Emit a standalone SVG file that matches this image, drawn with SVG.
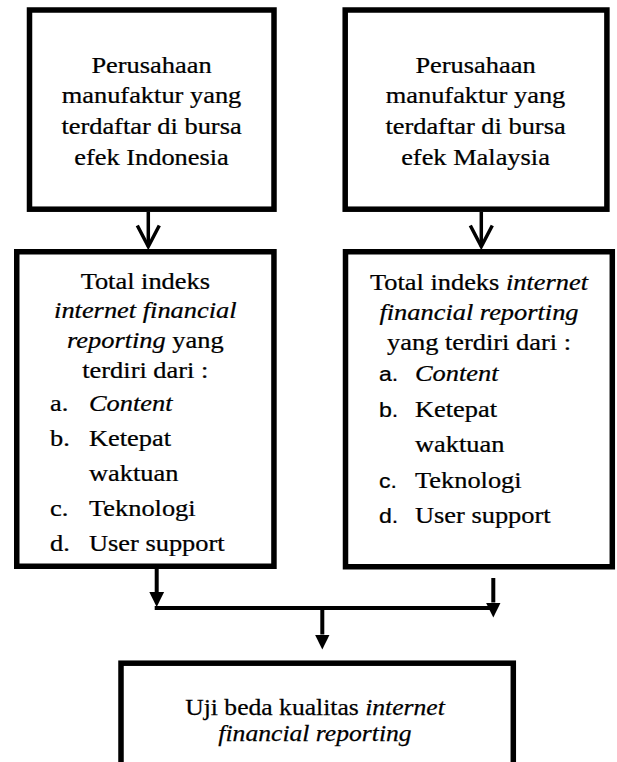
<svg xmlns="http://www.w3.org/2000/svg" width="617" height="762" viewBox="0 0 617 762">
<style>
.box{fill:#fff;stroke:#000;stroke-width:5.5}
.t{font-size:24px;fill:#000;stroke:#000;stroke-width:0.25}
.c{text-anchor:middle}
.i{font-style:italic}
.s{font-size:21px}
.ln{stroke:#000;stroke-width:4;fill:none}
.ls{stroke:#000;stroke-width:3.5;fill:none}
</style>
<defs>
<marker id="tri" markerUnits="userSpaceOnUse" viewBox="0 -8 15 16" refX="0" refY="0" markerWidth="15" markerHeight="16" orient="auto">
<path d="M0,-7.4 L15,0 L0,7.4 Z" fill="#000"/>
</marker>
<marker id="vee" markerUnits="userSpaceOnUse" viewBox="-3 -14 28 28" refX="21" refY="0" markerWidth="28" markerHeight="28" orient="auto">
<path d="M0,-11 L21,0 L0,11" fill="none" stroke="#000" stroke-width="3.5"/>
</marker>
</defs>
<rect width="617" height="762" fill="#fff"/>

<g font-family="'Liberation Serif', 'DejaVu Serif', serif">
<g id="node-indonesia">
<rect class="box" x="29.5" y="10" width="244.5" height="199.2"/>
<text class="t c" transform="translate(151.5,72.7) scale(1.1,1)">Perusahaan</text>
<text class="t c" transform="translate(151.5,103.3) scale(1.1,1)">manufaktur yang</text>
<text class="t c" transform="translate(151.5,133.9) scale(1.1,1)">terdaftar di bursa</text>
<text class="t c" transform="translate(151.5,164.5) scale(1.1,1)">efek Indonesia</text>
</g>

<g id="node-malaysia">
<rect class="box" x="345.2" y="10" width="261.7" height="199.2"/>
<text class="t c" transform="translate(475.5,72.7) scale(1.1,1)">Perusahaan</text>
<text class="t c" transform="translate(475.5,103.3) scale(1.1,1)">manufaktur yang</text>
<text class="t c" transform="translate(475.5,133.9) scale(1.1,1)">terdaftar di bursa</text>
<text class="t c" transform="translate(475.5,164.5) scale(1.1,1)">efek Malaysia</text>
</g>

<g id="node-ifr-indonesia">
<rect class="box" x="16.75" y="251.75" width="257.2" height="314.5"/>
<text class="t c" transform="translate(145.3,289.3) scale(1.1,1)">Total indeks</text>
<text class="t c i" transform="translate(145.3,318.3) scale(1.1,1)">internet financial</text>
<text class="t c" transform="translate(145.3,348.3) scale(1.1,1)"><tspan class="i">reporting</tspan> yang</text>
<text class="t c" transform="translate(145.3,378.3) scale(1.1,1)">terdiri dari :</text>
<text class="t" transform="translate(50,411) scale(1.1,1)">a.</text>
<text class="t i" transform="translate(89,411) scale(1.1,1)">Content</text>
<text class="t" transform="translate(50,446) scale(1.1,1)">b.</text>
<text class="t" transform="translate(89,446) scale(1.1,1)">Ketepat</text>
<text class="t" transform="translate(89,481) scale(1.1,1)">waktuan</text>
<text class="t" transform="translate(50,516) scale(1.1,1)">c.</text>
<text class="t" transform="translate(89,516) scale(1.1,1)">Teknologi</text>
<text class="t" transform="translate(50,551) scale(1.1,1)">d.</text>
<text class="t" transform="translate(89,551) scale(1.1,1)">User support</text>
</g>

<g id="node-ifr-malaysia">
<rect class="box" x="345.5" y="251.75" width="266.8" height="315"/>
<text class="t c" transform="translate(479,289.5) scale(1.1,1)">Total indeks <tspan class="i">internet</tspan></text>
<text class="t c i" transform="translate(479,319.5) scale(1.1,1)">financial reporting</text>
<text class="t c" transform="translate(479,349.5) scale(1.1,1)">yang terdiri dari :</text>
<text class="t s" font-family="'Liberation Sans', Arial, sans-serif" transform="translate(379,380.5) scale(1.1,1)">a.</text>
<text class="t i" transform="translate(415,380.5) scale(1.1,1)">Content</text>
<text class="t s" font-family="'Liberation Sans', Arial, sans-serif" transform="translate(379,416.5) scale(1.1,1)">b.</text>
<text class="t" transform="translate(415,416.5) scale(1.1,1)">Ketepat</text>
<text class="t" transform="translate(415,452.3) scale(1.1,1)">waktuan</text>
<text class="t s" font-family="'Liberation Sans', Arial, sans-serif" transform="translate(379,487.7) scale(1.1,1)">c.</text>
<text class="t" transform="translate(415,487.7) scale(1.1,1)">Teknologi</text>
<text class="t s" font-family="'Liberation Sans', Arial, sans-serif" transform="translate(379,523.3) scale(1.1,1)">d.</text>
<text class="t" transform="translate(415,523.3) scale(1.1,1)">User support</text>
</g>

<g id="node-uji">
<rect class="box" x="121" y="663.2" width="392.3" height="110"/>
<text class="t c" style="font-size:23.5px" transform="translate(315,715) scale(1.09,1)">Uji beda kualitas <tspan class="i">internet</tspan></text>
<text class="t c i" style="font-size:23.5px" transform="translate(315,741) scale(1.09,1)">financial reporting</text>
</g>
</g>

<g id="connectors">
<line class="ls" x1="148.3" y1="212" x2="148.3" y2="246.5" marker-end="url(#vee)"/>
<line class="ls" x1="481.3" y1="212" x2="481.3" y2="246.5" marker-end="url(#vee)"/>
<line class="ln" x1="156.7" y1="569" x2="156.7" y2="592" marker-end="url(#tri)"/>
<line class="ln" x1="154.7" y1="608" x2="493.3" y2="608"/>
<line class="ln" x1="493.3" y1="578" x2="493.3" y2="602.5" marker-end="url(#tri)"/>
<line class="ln" x1="322.3" y1="608" x2="322.3" y2="634.5" marker-end="url(#tri)"/>
</g>
</svg>
